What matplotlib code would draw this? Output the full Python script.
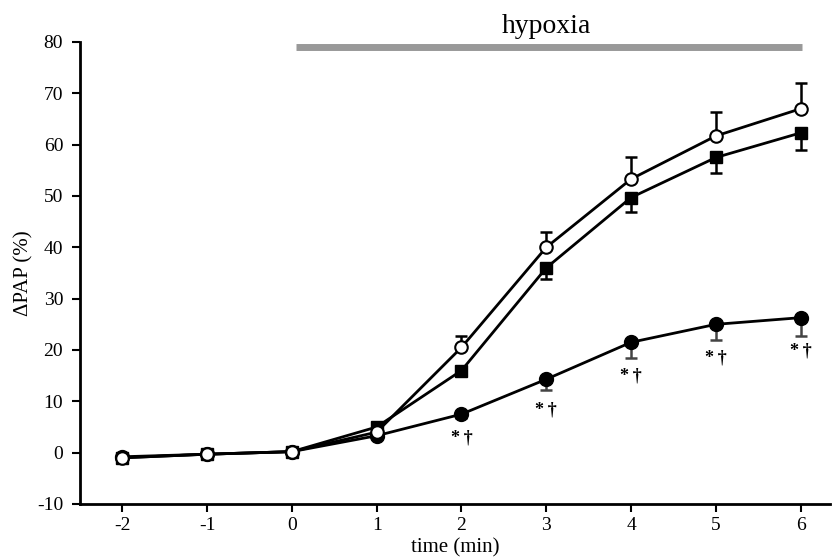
import matplotlib.pyplot as plt
import numpy as np

plt.rcParams['font.family'] = ['Liberation Serif', 'DejaVu Serif']
plt.rcParams['axes.unicode_minus'] = False

time = [-2, -1, 0, 1, 2, 3, 4, 5, 6]
open_circ = [-1.0, -0.3, 0.2, 4.0, 20.5, 40.0, 53.3, 61.7, 67.0]
open_err = [0.5, 0.4, 0.4, 0.8, 2.2, 3.0, 4.2, 4.6, 5.0]
squares = [-1.0, -0.3, 0.2, 5.0, 16.0, 36.0, 49.7, 57.5, 62.3]
sq_err = [0.5, 0.4, 0.4, 0.8, 1.0, 2.2, 2.8, 3.0, 3.3]
filled = [-0.8, -0.3, 0.2, 3.3, 7.5, 14.3, 21.5, 25.0, 26.3]
fill_err = [0.4, 0.4, 0.4, 0.5, 0.8, 2.1, 3.0, 3.0, 3.5]
sig_x = [2, 3, 4, 5, 6]
sig_y = [2.8, 8.3, 15.0, 18.5, 19.8]

fig = plt.figure(figsize=(8.32, 5.6), dpi=100)
ax = fig.add_axes([0.096, 0.1, 0.902, 0.825])

zeros = [0] * len(time)
ax.errorbar(time, filled, yerr=[fill_err, zeros], fmt='none', ecolor='#444444',
            elinewidth=1.8, capsize=4, capthick=1.8, zorder=2)
ax.errorbar(time, squares, yerr=[sq_err, zeros], fmt='none', ecolor='black',
            elinewidth=1.8, capsize=4, capthick=1.8, zorder=2)
ax.errorbar(time, open_circ, yerr=[zeros, open_err], fmt='none', ecolor='black',
            elinewidth=1.8, capsize=4, capthick=1.8, zorder=2)

ax.plot(time, filled, '-o', color='black', lw=2, ms=10, mfc='black', zorder=3)
ax.plot(time, squares, '-s', color='black', lw=2, ms=9, mfc='black', zorder=3)
ax.plot(time, open_circ, '-o', color='black', lw=2, ms=9, mfc='white', mew=1.5, zorder=4)

for x, y in zip(sig_x, sig_y):
    ax.text(x, y, '*\u2009†', ha='center', va='center', fontsize=13, fontweight='bold')

# hypoxia bar
ax.plot([0.05, 6.02], [79, 79], color='#999999', lw=5, solid_capstyle='butt', clip_on=False)
ax.text(3.0, 83.0, 'hypoxia', ha='center', va='center', fontsize=20, clip_on=False)

ax.set_xlim(-2.5, 6.35)
ax.set_ylim(-10, 80)
ax.set_xticks(time)
ax.set_xticklabels([str(t) for t in time])
ax.set_yticks(np.arange(-10, 81, 10))
ax.spines['top'].set_visible(False)
ax.spines['right'].set_visible(False)
ax.spines['left'].set_linewidth(2)
ax.spines['bottom'].set_linewidth(2)
ax.tick_params(axis='both', direction='out', length=6, width=1.5, labelsize=14)
ax.tick_params(axis='y', pad=6)
ax.tick_params(axis='x', pad=3)
ax.set_xlabel('time (min)', fontsize=15)
ax.set_ylabel('ΔPAP (%)', fontsize=15)
ax.xaxis.set_label_coords(0.5, -0.075)
ax.yaxis.set_label_coords(-0.062, 0.5)

fig.savefig('out.png', dpi=100)
